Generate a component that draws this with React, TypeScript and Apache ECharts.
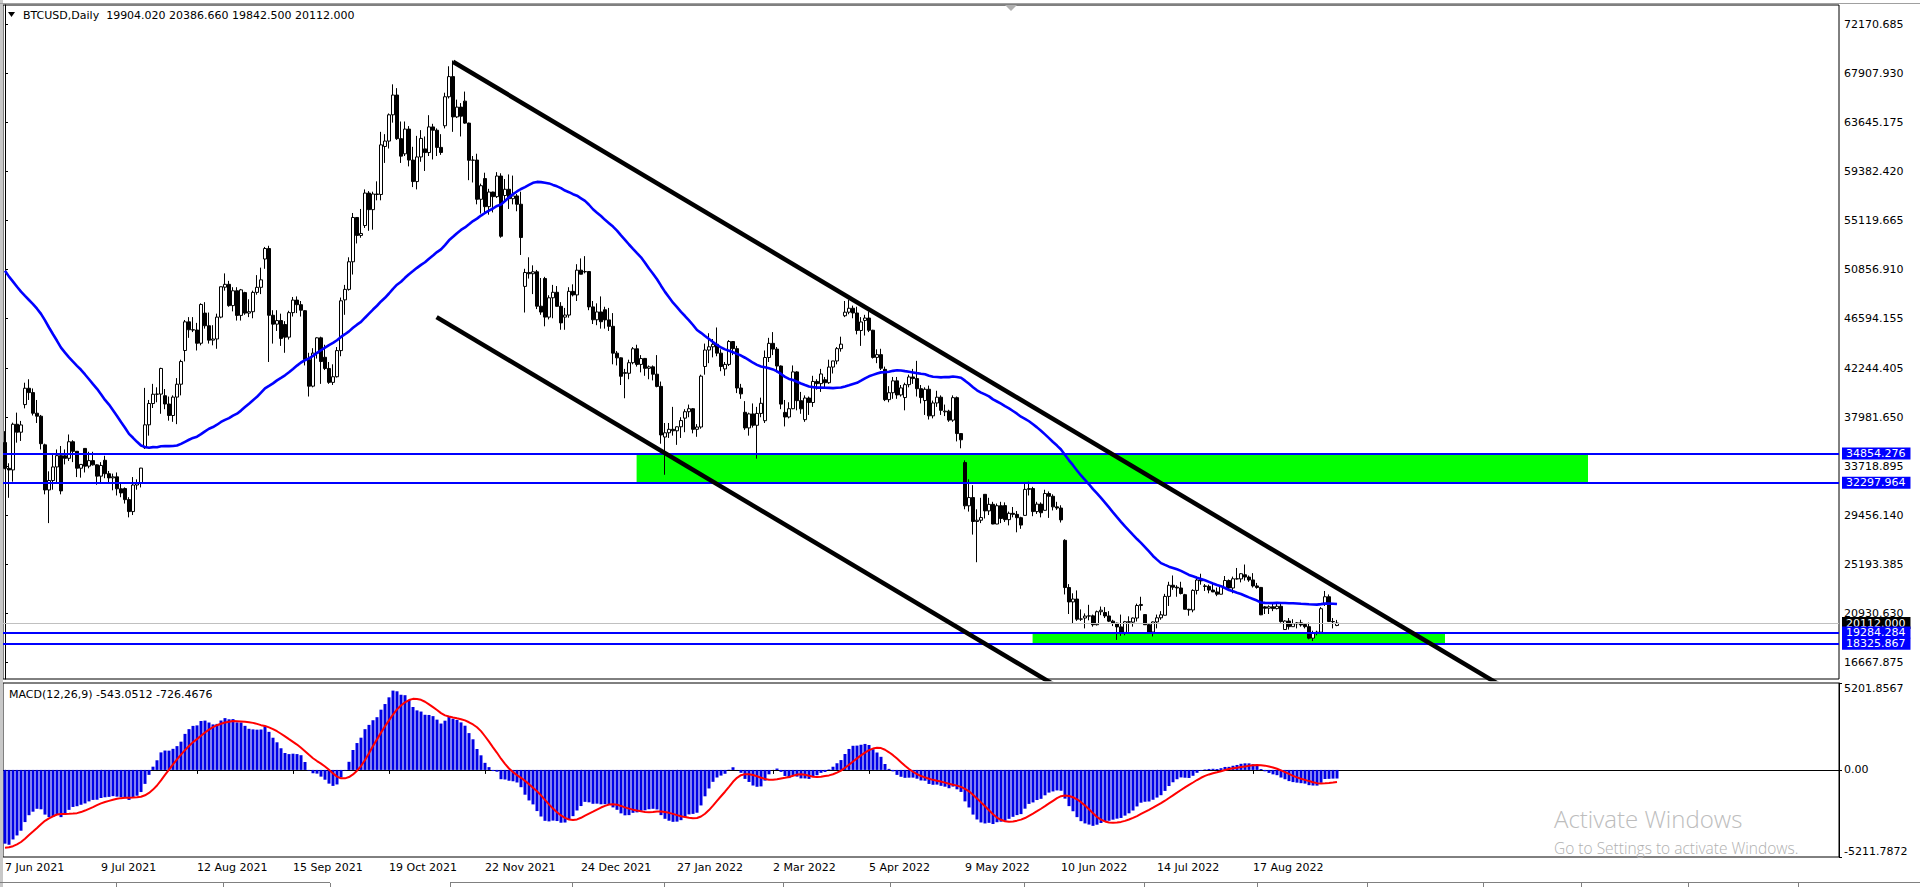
import React, { useEffect, useRef } from "react";
import * as echarts from "echarts";

// ---- weekday closes before the visible window (Mar 1 - Jun 4 2021), used by MA(50) and MACD
const warmupCloses = [
  49630, 48380, 50540, 48560, 48930, 52250, 54820, 56000, 57330, 57230,
  55850, 56650, 58330, 58160, 58560, 54530, 54740, 52770, 51700, 55140,
  57760, 58790, 58900, 58940, 59000, 58800, 58100, 56050, 58120, 58150,
  59860, 63500, 62970, 63110, 61550, 55700, 56470, 53900, 51760, 51100,
  54020, 55030, 54820, 53560, 57750, 57230, 53220, 57470, 56430, 57360,
  55860, 56700, 49150, 49720, 49880, 43540, 42910, 37000, 40780, 37300,
  38700, 38400, 39290, 38530, 35680, 37330, 36690, 37570, 39190, 36890,
];

// ---- daily weekday bars [open, high, low, close]
const jun2021 = [
  [35800, 36790, 33480, 33560], [33560, 34000, 31000, 33420], [33420, 37530, 32400, 37390], [37390, 38400, 35790, 36700], [36700, 37680, 35940, 37330],
  [39100, 41000, 38770, 40520], [40520, 41300, 39500, 40140], [40140, 40500, 38150, 38350], [38350, 39500, 37500, 38090], [38090, 38200, 35200, 35700],
  [35600, 35700, 31300, 31680], [31680, 33300, 28800, 32500], [32500, 34800, 31700, 33680], [33680, 35200, 32300, 34660], [34660, 35500, 31300, 31600],
  [34650, 35200, 33900, 34430], [34430, 36500, 34200, 35870], [35870, 36000, 34100, 35040],
];
const jul2021 = [
  [35040, 35040, 32800, 33570], [33570, 33900, 32750, 33900],
  [35290, 35300, 33200, 33750], [33750, 35000, 33560, 34230], [34230, 35000, 33800, 33860], [33860, 33900, 32130, 32880], [32880, 34100, 32300, 33810],
  [34260, 34650, 32700, 33090], [33090, 33330, 32300, 32730], [32730, 33100, 31650, 32820], [32820, 33200, 31200, 31780], [31780, 32250, 31050, 31420],
  [31800, 31900, 30500, 30840], [30840, 31050, 29300, 29800], [29800, 32800, 29500, 32110], [32110, 32600, 31700, 32310], [32310, 33600, 31900, 33580],
  [35350, 40550, 35250, 37340], [37340, 39500, 36400, 39190], [39190, 40900, 38800, 40000], [40000, 40600, 39300, 40010], [40010, 42300, 38300, 42240],
];
const aug2021 = [
  [39870, 40450, 38700, 39150], [39150, 39800, 37700, 38150], [38150, 39900, 37600, 39750], [39750, 41400, 37400, 40870], [40870, 43000, 39900, 42840],
  [43800, 46450, 42850, 46290], [46290, 46700, 44900, 45600], [45600, 46700, 45400, 45580], [45580, 46200, 43800, 44430], [44430, 47900, 44250, 47800],
  [47050, 48000, 45700, 45950], [45950, 47100, 44400, 44700], [44700, 46000, 44250, 44800], [44800, 47000, 43950, 46700], [46700, 49350, 46600, 49340],
  [49300, 50500, 49000, 49550], [49550, 49850, 47600, 47700], [47700, 49300, 47200, 48990], [48990, 49300, 46400, 46850], [46850, 49150, 46400, 49070],
  [48830, 48900, 46900, 47050], [47050, 48250, 46700, 47170],
];
const sep2021 = [
  [47170, 49000, 46600, 48850], [48850, 50350, 48650, 49290], [49290, 51000, 48700, 49940],
  [51750, 52800, 50900, 52660], [52660, 52900, 42800, 46860], [46860, 47300, 44400, 46090], [46090, 47300, 45500, 46400], [46400, 47000, 44200, 44850],
  [46060, 46350, 43600, 44960], [44960, 47250, 44750, 47090], [47090, 48450, 46750, 48180], [48180, 48500, 47050, 47780], [47780, 48100, 46750, 47300],
  [47260, 47300, 42500, 43000], [43000, 43600, 39800, 40700], [40700, 44000, 40600, 43570], [43570, 44950, 43100, 44900], [44900, 45000, 40900, 42840],
  [43210, 44300, 42100, 42240], [42240, 42800, 40900, 41030], [41030, 42600, 40800, 41520], [41520, 44100, 41450, 43790],
];
const oct2021 = [
  [43790, 48400, 43300, 48120],
  [48200, 49500, 46900, 49110], [49110, 51900, 49000, 51510], [51510, 55750, 50400, 55360], [55360, 55400, 53100, 53800], [53800, 56100, 53600, 53970],
  [54660, 57800, 54450, 57480], [57480, 57650, 54200, 56040], [56040, 57600, 54300, 57400], [57400, 58500, 56850, 57360], [57360, 62800, 56850, 61670],
  [61530, 62600, 60100, 62000], [62000, 64400, 61350, 64280], [64280, 66930, 63600, 66000], [66000, 66600, 62100, 62210], [62210, 63700, 60100, 60690],
  [60890, 63700, 60700, 63040], [63040, 63300, 59800, 60350], [60350, 61500, 58000, 58480], [58480, 62450, 57800, 60620], [60620, 62950, 60200, 62230],
];
const nov2021 = [
  [61320, 62400, 59400, 61000], [61000, 64250, 60700, 63230], [63230, 63500, 60400, 62940], [62940, 63100, 60700, 61450], [61450, 62600, 60800, 61010],
  [63330, 66200, 63100, 65850], [65850, 68500, 65700, 67600], [67600, 69000, 62800, 64100], [64100, 65600, 64000, 64950], [64950, 65300, 62400, 64160],
  [65470, 66300, 63500, 63560], [63560, 63600, 58600, 60330], [60330, 60700, 58400, 60350], [60350, 60900, 56500, 56940], [56940, 58300, 55700, 58120],
  [58740, 59250, 55800, 56300], [56300, 57850, 55600, 57570], [57570, 57600, 55800, 57170], [57170, 59300, 57050, 58960], [58960, 59200, 53600, 53730],
  [57270, 58700, 56800, 57810], [57810, 59100, 56100, 56990],
];
const dec2021 = [
  [56990, 59000, 56500, 57230], [57230, 57400, 55900, 56510], [56510, 57600, 52100, 53620],
  [49370, 50900, 47100, 50580], [50580, 51900, 50050, 50470], [50470, 51200, 48700, 50640], [50640, 50800, 47400, 47650], [47650, 50100, 46900, 47140],
  [50050, 50200, 45900, 46700], [46700, 48600, 46500, 48380], [48380, 49500, 46600, 48860], [48860, 49400, 47600, 47640], [47640, 48000, 45600, 46200],
  [46700, 47500, 45600, 46880], [46880, 49300, 46650, 48940], [48940, 49550, 48500, 48630], [48630, 51300, 48100, 50780], [50780, 51800, 50500, 50430],
  [50640, 52000, 50500, 50660], [50660, 50700, 47300, 47590], [47590, 48100, 46100, 46470], [46470, 47900, 46000, 47150], [47150, 48500, 45700, 46300],
];
const jan2022 = [
  [47340, 47600, 45700, 46460], [46460, 47500, 45500, 45900], [45900, 47050, 42600, 43570], [43570, 43750, 42500, 43160], [43160, 43200, 40800, 41560],
  [41870, 42200, 39650, 41820], [41820, 43000, 41300, 42740], [42740, 44100, 42600, 43950], [43950, 44300, 42400, 42590], [42590, 43400, 41900, 43100],
  [43110, 43150, 41600, 42250], [42250, 42500, 41300, 42380], [42380, 42500, 41200, 41740], [41740, 43400, 40600, 40680], [40680, 41100, 35700, 36460],
  [36280, 37500, 33000, 36650], [36650, 37500, 36200, 36950], [36950, 38900, 36400, 36820], [36820, 37200, 35600, 37170], [37170, 38000, 36200, 37710],
  [37920, 38700, 36700, 38480],
];
const feb2022 = [
  [38480, 39100, 38000, 38740], [38740, 38800, 36600, 36950], [36950, 37400, 36300, 37150], [37150, 41700, 37000, 41570],
  [42410, 44400, 41700, 43840], [43840, 45300, 42700, 44120], [44120, 44800, 43200, 44340], [44340, 45800, 43300, 43570], [43570, 43900, 42000, 42410],
  [42200, 42800, 41600, 42590], [42590, 44700, 42450, 44580], [44580, 44600, 43400, 43960], [43960, 44200, 40100, 40540], [40540, 40900, 39600, 40030],
  [38430, 39400, 36900, 37070], [37070, 38400, 36400, 38290], [38290, 39200, 37100, 37300], [37300, 38900, 34400, 38330], [38330, 39700, 38000, 39210],
  [37700, 43800, 37500, 43190],
];
const mar2022 = [
  [43190, 44900, 42800, 44420], [44420, 45400, 43400, 43920], [43920, 44100, 41900, 42450], [42450, 42500, 38700, 39140],
  [38420, 39500, 37200, 38020], [38020, 39300, 37900, 38740], [38740, 42500, 38700, 41940], [41940, 42000, 38600, 39440], [39440, 40200, 38300, 38730],
  [37790, 39900, 37600, 39670], [39670, 39800, 38200, 39280], [39280, 41600, 38900, 41110], [41110, 41300, 40400, 40920], [40920, 42200, 40200, 41760],
  [41260, 41500, 40500, 41000], [41000, 43000, 40900, 42360], [42360, 42900, 41800, 42890], [42890, 44100, 42600, 43960], [43960, 45000, 43700, 44350],
  [46820, 48100, 46700, 47130], [47130, 48200, 46950, 47470], [47470, 47700, 46600, 47060], [47060, 47600, 45200, 45540],
];
const apr2022 = [
  [45540, 46700, 44200, 46280],
  [46410, 46900, 45100, 46620], [46620, 47200, 45400, 45560], [45560, 45600, 43100, 43200], [43200, 43900, 42700, 43440], [43440, 43950, 42100, 42260],
  [42160, 42400, 39400, 39530], [39530, 40700, 39300, 40130], [40130, 41500, 39600, 41160], [41160, 41500, 39600, 39940], [39940, 40800, 39800, 40550],
  [39710, 41000, 38600, 40830], [40830, 41700, 40600, 41500], [41500, 42200, 40900, 41360], [41360, 42900, 39800, 40480], [40480, 40800, 39200, 39710],
  [39450, 40600, 38200, 40430], [40430, 40750, 37800, 38120], [38120, 39450, 37900, 39240], [39240, 40300, 38900, 39740], [39740, 39900, 38200, 38600],
];
const may2022 = [
  [38470, 39100, 38100, 38530], [38530, 38650, 37600, 37750], [37750, 39900, 37600, 39700], [39700, 39800, 35900, 36580], [36580, 36600, 35300, 36040],
  [34060, 34250, 30000, 30300], [30300, 32600, 29800, 31020], [31020, 32100, 27800, 28940], [28940, 30000, 25400, 29050], [29050, 31000, 28800, 29280],
  [31300, 31300, 29200, 29860], [29860, 31000, 29500, 30430], [30430, 30650, 28700, 28720], [28720, 30500, 28700, 30310], [30310, 30650, 28800, 29200],
  [30320, 30600, 28900, 29100], [29100, 29800, 28600, 29650], [29650, 30200, 29300, 29560], [29560, 29850, 28000, 29270], [29270, 29350, 28300, 28630],
  [29470, 32200, 29450, 31730], [31730, 32400, 31200, 31800],
];
const jun2022 = [
  [31800, 31950, 29400, 29800], [29800, 30650, 29600, 30450], [30450, 30600, 29300, 29700],
  [29910, 31700, 29900, 31370], [31370, 31550, 29250, 31130], [31130, 31300, 29900, 30210], [30210, 30650, 29950, 30110], [30110, 30350, 28850, 29080],
  [27300, 27400, 22600, 23200], [23200, 23500, 20900, 21950], [21950, 22700, 20100, 22200], [22200, 22950, 20300, 20450], [20450, 21300, 20300, 20470],
  [20550, 20950, 19650, 20720], [20720, 21700, 20350, 20740], [20740, 20850, 19800, 19970], [19970, 21200, 19900, 21100], [21100, 21550, 20800, 21230],
  [21030, 21500, 20550, 20730], [20730, 21150, 20200, 20280], [20280, 20400, 19850, 20100], [20100, 20150, 18650, 19780],
];
const jul2022 = [
  [19780, 20850, 19000, 19300],
  [19300, 20300, 19050, 20230], [20230, 20700, 19350, 20190], [20190, 20600, 19800, 20550], [20550, 21800, 20250, 21640], [21640, 22400, 21200, 21730],
  [20850, 20900, 19950, 19970], [19970, 20050, 19250, 19330], [19330, 20250, 18950, 20210], [20210, 20850, 19650, 20570], [20570, 21150, 20400, 20830],
  [20790, 22650, 20780, 22430], [22430, 23700, 21600, 23400], [23400, 24250, 23000, 23230], [23230, 23400, 22400, 23160], [23160, 23700, 22600, 22680],
  [22580, 22650, 21300, 21310], [21310, 21350, 20750, 21250], [21250, 23050, 21050, 22950], [22950, 24150, 22600, 23850], [23850, 24400, 23450, 23780],
];
const aug2022 = [
  [23340, 23500, 22900, 23300], [23300, 23450, 22700, 22980], [22980, 23600, 22800, 22820], [22820, 23200, 22450, 22620], [22620, 23400, 22600, 23310],
  [23180, 24200, 23150, 23810], [23810, 23900, 22900, 23160], [23160, 24150, 22700, 23960], [23960, 24900, 23900, 23950], [23950, 24450, 23650, 24400],
  [24310, 25200, 23800, 24110], [24110, 24250, 23700, 23860], [23860, 24450, 23200, 23340], [23340, 23600, 23100, 23210], [23210, 23250, 20800, 20830],
  [21520, 21600, 20900, 21400], [21400, 21650, 20900, 21530], [21530, 21800, 21150, 21370], [21370, 21800, 21300, 21570], [21570, 21850, 20150, 20240],
  [19550, 20350, 19550, 20290], [20290, 20550, 19550, 19800], [19800, 20450, 19800, 20050],
];
const sep2022 = [
  [20050, 20200, 19650, 20130], [20130, 20400, 19800, 19950],
  [19990, 20000, 19650, 19800], [19800, 20150, 18700, 18800], [18800, 19450, 18550, 19290], [19290, 19450, 19050, 19320], [19320, 21500, 19300, 21360],
  [21820, 22900, 21600, 22400], [22400, 22600, 20200, 20250], [20250, 20550, 19650, 20230], [19904.02, 20386.66, 19842.5, 20112.0],
];

const bars = [
  ...jun2021, ...jul2021, ...aug2021, ...sep2021, ...oct2021, ...nov2021, ...dec2021,
  ...jan2022, ...feb2022, ...mar2022, ...apr2022, ...may2022, ...jun2022, ...jul2022, ...aug2022, ...sep2022,
];

// ---- axis ticks / levels / drawings
const priceTicks = [72170.685, 67907.93, 63645.175, 59382.42, 55119.665, 50856.91, 46594.155, 42244.405, 37981.65, 33718.895, 29456.14, 25193.385, 20930.63, 16667.875];
const priceMin = 15251.7;
const priceMax = 73824.3;
const macdMin = -5211.7872;
const macdMax = 5201.8567;
const macdTicks = [macdMin, 0, macdMax];
const levelLines = [34854.276, 32297.964, 19284.284, 18325.867];
const bidPrice = 20112.0;
const zones = [
  { x0: 157.9, x1: 395.75, top: 34854.276, bottom: 32297.964 },
  { x0: 256.9, x1: 360.0, top: 19284.284, bottom: 18325.867 },
];
const trendLines = [
  [[112, 68890], [380, 13433]],
  [[107.9, 46696], [270, 13153]],
];
const macdTitle = "MACD(12,26,9) -543.0512 -726.4676";
const TOTAL_SLOTS = 459;
const LABEL_EVERY = 24;

// ---- categories: weekday dates
const MONTHS = ["Jan", "Feb", "Mar", "Apr", "May", "Jun", "Jul", "Aug", "Sep", "Oct", "Nov", "Dec"];
const cats: string[] = [];
{
  let t = Date.UTC(2021, 5, 7);
  while (cats.length < TOTAL_SLOTS) {
    const d = new Date(t);
    const wd = d.getUTCDay();
    if (wd !== 0 && wd !== 6) cats.push(`${d.getUTCDate()} ${MONTHS[d.getUTCMonth()]} ${d.getUTCFullYear()}`);
    t += 86400000;
  }
}

// ---- indicators derived from closes
const allCloses = [...warmupCloses, ...bars.map((b) => b[3])];
const W = warmupCloses.length;
const ma50 = bars.map((_, i) => {
  const j = i + W;
  let s = 0;
  for (let k = j - 49; k <= j; k++) s += allCloses[k];
  return +(s / 50).toFixed(2);
});
const emaCalc = (n: number) => {
  const a = 2 / (n + 1);
  const out: number[] = [];
  allCloses.forEach((c, i) => out.push(i === 0 ? c : out[i - 1] + a * (c - out[i - 1])));
  return out;
};
const e12 = emaCalc(12);
const e26 = emaCalc(26);
const macdMain = allCloses.map((_, i) => e12[i] - e26[i]);
const macdSignal = macdMain.map((_, i) => {
  if (i < 8) return macdMain[i];
  let s = 0;
  for (let k = i - 8; k <= i; k++) s += macdMain[k];
  return s / 9;
});
const macdBars = macdMain.slice(W).map((v) => +v.toFixed(2));
const macdSig = macdSignal.slice(W).map((v) => +v.toFixed(2));

const FONT = "DejaVu Sans";
const last = bars[bars.length - 1];
const headerText = `BTCUSD,Daily  ${last[0].toFixed(3)} ${last[1].toFixed(3)} ${last[2].toFixed(3)} ${last[3].toFixed(3)}`;

export default function App() {
  const ref = useRef<HTMLDivElement>(null);
  useEffect(() => {
    if (!ref.current) return;
    const chart = echarts.init(ref.current, undefined, { renderer: "svg" });
    const labelInterval = (i: number) => i % LABEL_EVERY === 0 && i < bars.length;
    const boxLabel = (bg: string) => ({
      show: true,
      position: "end",
      distance: 3,
      color: "#ffffff",
      backgroundColor: bg,
      padding: [1, 5, 0, 4],
      fontFamily: FONT,
      fontSize: 11,
    });
    const option: any = {
      animation: false,
      backgroundColor: "#ffffff",
      grid: [
        { left: 3, top: 5, width: 1836, height: 674, show: true, borderColor: "#000", borderWidth: 1, backgroundColor: "#fff" },
        { left: 3, top: 683, width: 1836, height: 174, show: true, borderColor: "#000", borderWidth: 1, backgroundColor: "#fff" },
      ],
      xAxis: [
        { type: "category", gridIndex: 0, data: cats, boundaryGap: true, axisLine: { show: false }, axisTick: { show: false }, axisLabel: { show: false }, splitLine: { show: false } },
        {
          type: "category", gridIndex: 1, data: cats, boundaryGap: true,
          axisLine: { show: true, lineStyle: { color: "#000", width: 1 } },
          axisTick: { show: true, interval: labelInterval, alignWithLabel: true, length: 4, lineStyle: { color: "#000" } },
          axisLabel: { show: true, interval: labelInterval, align: "left", margin: 5, color: "#000", fontFamily: FONT, fontSize: 11 },
          splitLine: { show: false },
        },
        { type: "value", gridIndex: 0, min: -0.5, max: TOTAL_SLOTS - 0.5, show: false },
      ],
      yAxis: [
        {
          type: "value", gridIndex: 0, position: "right", min: priceMin, max: priceMax,
          axisLine: { show: true, lineStyle: { color: "#000" } },
          axisTick: { show: true, length: 3, customValues: priceTicks, lineStyle: { color: "#000" } },
          axisLabel: { show: true, customValues: priceTicks, margin: 5, color: "#000", fontFamily: FONT, fontSize: 11, formatter: (v: number) => v.toFixed(3) },
          splitLine: { show: false },
        },
        {
          type: "value", gridIndex: 1, position: "right", min: macdMin, max: macdMax,
          axisLine: { show: true, lineStyle: { color: "#000" } },
          axisTick: { show: true, length: 3, customValues: macdTicks, lineStyle: { color: "#000" } },
          axisLabel: {
            show: true, customValues: macdTicks, margin: 5, color: "#000", fontFamily: FONT, fontSize: 11,
            verticalAlignMaxLabel: "top", verticalAlignMinLabel: "bottom",
            formatter: (v: number) => (Math.abs(v) < 1e-6 ? "0.00" : v.toFixed(4)),
          },
          splitLine: { show: false },
        },
      ],
      series: [
        {
          name: "zones", type: "line", xAxisIndex: 2, yAxisIndex: 0, data: [], z: 1, silent: true,
          markArea: {
            silent: true,
            itemStyle: { color: "#00ff00", opacity: 1 },
            data: zones.map((zn) => [{ xAxis: zn.x0, yAxis: zn.top }, { xAxis: zn.x1, yAxis: zn.bottom }]),
          },
        },
        {
          name: "levels", type: "line", xAxisIndex: 0, yAxisIndex: 0, data: [], z: 2, silent: true,
          markLine: {
            silent: true, symbol: ["none", "none"], animation: false,
            data: [
              { yAxis: bidPrice, lineStyle: { color: "#c0c0c0", width: 1, type: "solid" }, label: { ...boxLabel("#000000"), formatter: bidPrice.toFixed(3) } },
              ...levelLines.map((v) => ({ yAxis: v, lineStyle: { color: "#0000ff", width: 2, type: "solid" }, label: { ...boxLabel("#0000ff"), formatter: v.toFixed(3) } })),
            ],
          },
        },
        {
          name: "BTCUSD", type: "candlestick", xAxisIndex: 0, yAxisIndex: 0, z: 3, barWidth: 3,
          data: bars.map(([o, h, l, c]) => [o, c, l, h]),
          itemStyle: { color: "#ffffff", color0: "#000000", borderColor: "#000000", borderColor0: "#000000", borderWidth: 1 },
        },
        {
          name: "MA", type: "line", xAxisIndex: 0, yAxisIndex: 0, z: 4, data: ma50, symbol: "none",
          lineStyle: { color: "#0000ff", width: 2.6 },
        },
        ...trendLines.map((pts, i) => ({
          name: "trend" + i, type: "line", xAxisIndex: 2, yAxisIndex: 0, z: 5, data: pts, symbol: "none", clip: true,
          lineStyle: { color: "#000000", width: 4.5 },
        })),
        {
          name: "MACD", type: "bar", xAxisIndex: 1, yAxisIndex: 1, data: macdBars, barWidth: 3,
          itemStyle: { color: "#0000e6" },
        },
        {
          name: "Signal", type: "line", xAxisIndex: 1, yAxisIndex: 1, data: macdSig, symbol: "none", z: 4,
          lineStyle: { color: "#ff0000", width: 2 },
        },
      ],
      graphic: [
        { type: "rect", shape: { x: 0, y: 0, width: 3, height: 887 }, style: { fill: "#c8c8c8" }, z: 50 },
        { type: "line", shape: { x1: 0, y1: 3.5, x2: 1920, y2: 3.5 }, style: { stroke: "#a0a0a0", lineWidth: 1 }, z: 50 },
        { type: "polygon", shape: { points: [[1005, 5], [1017, 5], [1011, 11]] }, style: { fill: "#b0b0b0" }, z: 50 },
        { type: "polygon", shape: { points: [[8, 12], [15, 12], [11.5, 17]] }, style: { fill: "#000" }, z: 50 },
        { type: "text", x: 23, y: 15, style: { text: headerText, font: `11px "${FONT}"`, fill: "#000", textVerticalAlign: "middle", verticalAlign: "middle" }, z: 50 },
        { type: "text", x: 9, y: 694, style: { text: macdTitle, font: `11px "${FONT}"`, fill: "#000", textVerticalAlign: "middle", verticalAlign: "middle" }, z: 50 },
        { type: "text", x: 1554, y: 818, style: { text: "Activate Windows", font: `300 24px "Open Sans"`, fill: "#bdbdbd", textVerticalAlign: "middle", verticalAlign: "middle" }, z: 60 },
        { type: "text", x: 1554, y: 848, style: { text: "Go to Settings to activate Windows.", font: `300 15.5px "Open Sans"`, fill: "#b0b0b0", textVerticalAlign: "middle", verticalAlign: "middle" }, z: 60 },
        { type: "line", shape: { x1: 0, y1: 882.5, x2: 330, y2: 882.5 }, style: { stroke: "#808080", lineWidth: 1 }, z: 50 },
        { type: "line", shape: { x1: 450, y1: 882.5, x2: 1920, y2: 882.5 }, style: { stroke: "#808080", lineWidth: 1 }, z: 50 },
        ...[116, 223, 330, 450, 572, 664, 783, 890, 1024, 1144, 1257, 1367, 1483, 1581, 1688, 1798].map((x) => ({
          type: "line", shape: { x1: x + 0.5, y1: 883, x2: x + 0.5, y2: 887 }, style: { stroke: "#808080", lineWidth: 1 }, z: 50,
        })),
      ],
    };
    chart.setOption(option);
    return () => chart.dispose();
  }, []);
  return <div ref={ref} style={{ position: "fixed", left: 0, top: 0, width: 1920, height: 887, background: "#fff" }} />;
}
